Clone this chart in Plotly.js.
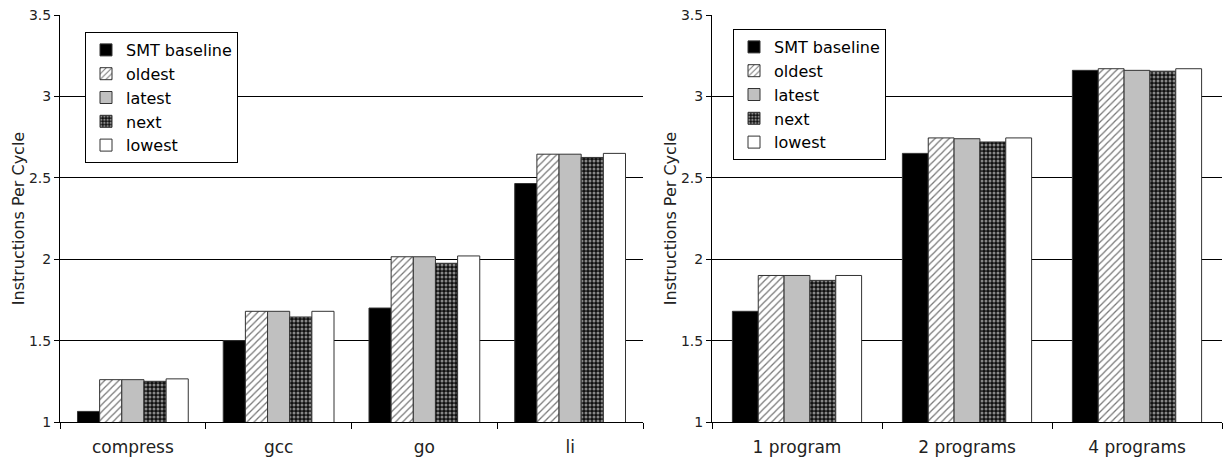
<!DOCTYPE html>
<html>
<head>
<meta charset="utf-8">
<script src="https://cdn.plot.ly/plotly-3.0.1.min.js"></script>
<style>html,body{margin:0;padding:0;background:#fff;}#chart{width:1225px;height:466px;}</style>
</head>
<body>
<div id="chart"></div>
<script>
const seriesNames = ["SMT baseline", "oldest", "latest", "next", "lowest"];

const leftCategories = ["compress", "gcc", "go", "li"];
const leftBaseline = [1.065, 1.50, 1.70, 2.465];
const leftOldest   = [1.26, 1.68, 2.015, 2.645];
const leftLatest   = [1.26, 1.68, 2.015, 2.645];
const leftNext     = [1.25, 1.645, 1.975, 2.625];
const leftLowest   = [1.265, 1.68, 2.02, 2.65];

const rightCategories = ["1 program", "2 programs", "4 programs"];
const rightBaseline = [1.68, 2.65, 3.16];
const rightOldest   = [1.90, 2.745, 3.17];
const rightLatest   = [1.90, 2.74, 3.16];
const rightNext     = [1.87, 2.72, 3.155];
const rightLowest   = [1.90, 2.745, 3.17];

const yTickVals = [1, 1.5, 2, 2.5, 3, 3.5];
const yTickText = ["1", "1.5", "2", "2.5", "3", "3.5"];

const FONT = "DejaVu Sans, sans-serif";
const outline = {color: "#333", width: 1};
const styles = [
  {color: "#000000", line: outline},
  {color: "#ffffff", line: outline, pattern: {shape: "/", fgcolor: "#777", bgcolor: "#fff", size: 5, solidity: 0.25}},
  {color: "#c0c0c0", line: outline},
  {color: "#111111", line: outline, pattern: {shape: ".", fgcolor: "#fff", bgcolor: "#111", size: 4, solidity: 0.45, fillmode: "overlay"}},
  {color: "#ffffff", line: outline}
];

const leftData = [leftBaseline, leftOldest, leftLatest, leftNext, leftLowest];
const rightData = [rightBaseline, rightOldest, rightLatest, rightNext, rightLowest];

const traces = [];
leftData.forEach((vals, i) => {
  traces.push({type: "bar", x: leftCategories, y: vals, name: seriesNames[i],
    marker: styles[i], xaxis: "x", yaxis: "y", legend: "legend", hoverinfo: "skip"});
});
rightData.forEach((vals, i) => {
  traces.push({type: "bar", x: rightCategories, y: vals, name: seriesNames[i],
    marker: styles[i], xaxis: "x2", yaxis: "y2", legend: "legend2", hoverinfo: "skip"});
});

const W = 1225, H = 466, T = 15, B = 44;
const PH = H - T - B;
function yAxis(anchor) {
  return {
    anchor: anchor, range: [1, 3.5], tickvals: yTickVals, ticktext: yTickText,
    showgrid: true, gridcolor: "#000", gridwidth: 1,
    showline: true, linecolor: "#000", linewidth: 1,
    ticks: "outside", ticklen: 5, tickcolor: "#000",
    tickfont: {family: FONT, size: 14, color: "#222"},
    zeroline: false, fixedrange: true,
    title: {text: "Instructions Per Cycle", font: {family: FONT, size: 16, color: "#222"}, standoff: 0}
  };
}
function xAxis(domain, anchor) {
  return {
    domain: domain, anchor: anchor, type: "category",
    showline: true, linecolor: "#000", linewidth: 1,
    ticks: "outside", tickson: "boundaries", ticklen: 6, tickcolor: "#000",
    ticklabelstandoff: 10,
    tickfont: {family: FONT, size: 17, color: "#222"},
    showgrid: false, fixedrange: true
  };
}
function legend(x, yPix) {
  return {
    x: x, y: (H - B - yPix) / PH, xanchor: "left", yanchor: "top",
    bgcolor: "#fff", bordercolor: "#000", borderwidth: 1,
    font: {family: FONT, size: 16, color: "#000"},
    itemwidth: 30, tracegroupgap: 0, traceorder: "normal"
  };
}

const layout = {
  width: W, height: H,
  margin: {l: 0, r: 0, t: T, b: B},
  paper_bgcolor: "#fff", plot_bgcolor: "#fff",
  barmode: "group", bargap: 0.24, bargroupgap: 0,
  showlegend: true,
  xaxis: xAxis([60 / W, 643 / W], "y"),
  yaxis: yAxis("x"),
  xaxis2: xAxis([712 / W, 1222 / W], "y2"),
  yaxis2: yAxis("x2"),
  legend: legend(85 / W, 32),
  legend2: legend(733 / W, 29)
};

Plotly.newPlot("chart", traces, layout, {displayModeBar: false, staticPlot: true});
</script>
</body>
</html>
